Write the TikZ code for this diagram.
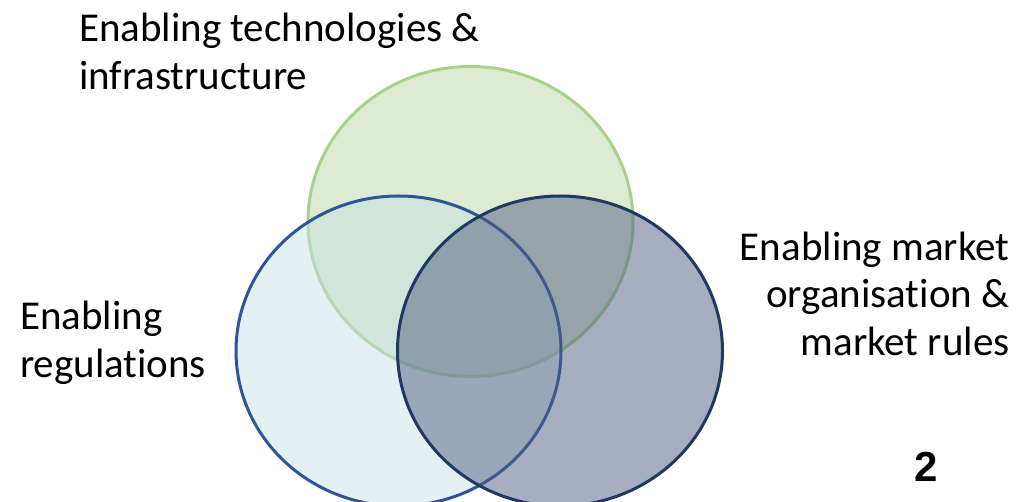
\documentclass[tikz,border=0pt]{standalone}
\usepackage{fontspec}
\setmainfont{Carlito}[Ligatures={NoCommon}]
\newfontfamily\numfont{Liberation Sans}
\usetikzlibrary{shapes.geometric}
\definecolor{greenfill}{HTML}{DEEBD3}
\definecolor{greenline}{HTML}{A9D18E}
\definecolor{leftfill}{HTML}{C4E2E4}
\definecolor{leftline}{HTML}{2F5597}
\definecolor{rightfill}{HTML}{4F5D7F}
\definecolor{rightline}{HTML}{1F3864}
\tikzset{
  setcircle/.style={ellipse, inner sep=0pt, outer sep=0pt, line width=3pt,
    minimum width=325pt, minimum height=310pt},
  lbl/.style={inner sep=0pt, outer sep=0pt, text=black,
    font=\fontsize{41}{47.5}\selectfont},
}
\begin{document}
\begin{tikzpicture}[x=1pt,y=-1pt]
\useasboundingbox (0,0) rectangle (1026,502);
\node[setcircle, fill=greenfill, draw=greenline] (tech) at (470.5,221.5) {};
\node[setcircle, fill=leftfill, fill opacity=0.47, draw=leftline] (reg) at (398.5,351) {};
\node[setcircle, fill=rightfill, fill opacity=0.5, draw=rightline] (mkt) at (560,351) {};
\node[lbl, anchor=base west] (techlbl) at (79,41.7)
  {\vtop{\hbox{Enabling technologies \&}\hbox{infrastructure}}};
\node[lbl, anchor=base west] (reglbl) at (20,330)
  {\vtop{\hbox{Enabling}\hbox{regulations}}};
\node[lbl, anchor=base east] (mktlbl) at (1010,260.5)
  {\vtop{\hbox{\llap{Enabling market}}\hbox{\llap{organisation \&}}\hbox{\llap{market rules}}}};
\node[inner sep=0pt, anchor=base, font=\numfont\bfseries\fontsize{42}{42}\selectfont] (num) at (926.5,482) {2};
\end{tikzpicture}
\end{document}
